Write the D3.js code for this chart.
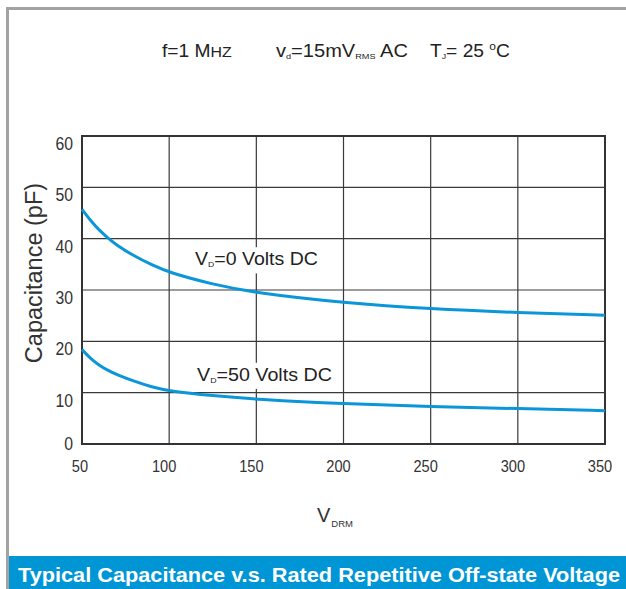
<!DOCTYPE html>
<html><head><meta charset="utf-8">
<script src="https://cdn.jsdelivr.net/npm/d3@7"></script>
<style>body{margin:0;background:#fff;}svg{display:block;font-family:"Liberation Sans",Arial,sans-serif;}</style>
</head><body>
<svg id="c" width="626" height="589"></svg>
<script>
const xTicks = [50,100,150,200,250,300,350];
const yTicks = [0,10,20,30,40,50,60];
const voltage = [50,55,60,65,70,80,90,100,125,150,200,250,300,350];
const capVd0  = [45.7,43.5,41.6,40.1,38.7,36.6,34.9,33.4,31.1,29.4,27.5,26.3,25.6,25.1];
const capVd50 = [18.4,16.6,15.3,14.3,13.5,12.2,11.1,10.3,9.4,8.7,7.8,7.3,6.9,6.5];

const svg = d3.select("#c");
const x = d3.scaleLinear().domain([50,350]).range([82,605]);
const y = d3.scaleLinear().domain([0,60]).range([444,136]);

// scale a text horizontally so it spans [x0, x1]
function fit(t, x0, x1){
  const bb = t.node().getBBox();
  const k = (x1 - x0) / bb.width;
  t.attr("transform", `translate(${x0},0) scale(${k},1) translate(${-bb.x},0)`);
}

// outer gray frame
svg.append("path").attr("d","M7.5,589 V8.5 H626").attr("fill","none").attr("stroke","#a3a3a3").attr("stroke-width",3);

// header text
const hdr = svg.append("text").attr("y",57).attr("font-size",17.5).attr("fill","#222");
hdr.append("tspan").text("f=1 M");
hdr.append("tspan").attr("font-size",14.5).text("HZ");
fit(hdr,162,232);
const h2 = svg.append("text").attr("y",57).attr("font-size",17.5).attr("fill","#222");
h2.append("tspan").text("v");
h2.append("tspan").attr("font-size",8).attr("dy",2).text("d");
h2.append("tspan").attr("dy",-2).text("=15mV");
h2.append("tspan").attr("font-size",8).attr("dy",2).text("RMS");
h2.append("tspan").attr("dy",-2).text(" AC");
fit(h2,276,408);
const h3 = svg.append("text").attr("y",57).attr("font-size",17.5).attr("fill","#222");
h3.append("tspan").text("T");
h3.append("tspan").attr("font-size",8).attr("dy",2).text("J");
h3.append("tspan").attr("dy",-2).text("= 25 ");
h3.append("tspan").attr("font-size",11).attr("dy",-7).text("o");
h3.append("tspan").attr("dy",7).text("C");
fit(h3,430,510);

// grid
const g = svg.append("g");
g.selectAll(".vx").data(xTicks.slice(1,-1)).join("line")
  .attr("x1",d=>x(d)).attr("x2",d=>x(d)).attr("y1",y(60)).attr("y2",y(0))
  .attr("stroke","#3a3a3a").attr("stroke-width",1.2);
g.selectAll(".hy").data(yTicks.slice(1,-1)).join("line")
  .attr("y1",d=>y(d)).attr("y2",d=>y(d)).attr("x1",x(50)).attr("x2",x(350))
  .attr("stroke","#3a3a3a").attr("stroke-width",1.2);

// curve labels with white backgrounds
function label(baseY, x0, x1, rest){
  const t = svg.append("text").attr("y",baseY).attr("font-size",18).attr("fill","#222");
  t.append("tspan").text("V");
  t.append("tspan").attr("font-size",8).attr("dy",2).text("D");
  t.append("tspan").attr("dy",-2).text(rest);
  fit(t,x0,x1);
  const bb = t.node().getBBox();
  svg.insert("rect",()=>t.node()).attr("x",x0-3).attr("y",bb.y-2).attr("width",x1-x0+6).attr("height",bb.height+6).attr("fill","#fff");
}
label(265.5, 195, 318, "=0 Volts DC");
label(381, 197, 332, "=50 Volts DC");

// frame
svg.append("rect").attr("x",x(50)).attr("y",y(60)).attr("width",x(350)-x(50)).attr("height",y(0)-y(60))
  .attr("fill","none").attr("stroke","#333").attr("stroke-width",2);

// curves
const line = d3.line().x(d=>x(d[0])).y(d=>y(d[1])).curve(d3.curveBasis);
[capVd0,capVd50].forEach(s=>{
  svg.append("path").datum(voltage.map((v,i)=>[v,s[i]])).attr("d",line)
    .attr("fill","none").attr("stroke","#0a96d8").attr("stroke-width",3);
});

// ticks
svg.selectAll(".xt").data(xTicks).join("text")
  .attr("transform",d=>`translate(${x(d)-(d===50?2:5)},472) scale(0.86,1)`)
  .attr("text-anchor","middle").attr("font-size",17).attr("fill","#333").text(d=>d);
svg.selectAll(".yt").data(yTicks).join("text")
  .attr("transform",d=>`translate(73,${d===0?y(d)+6:y(d)+14}) scale(0.9,1)`)
  .attr("text-anchor","end").attr("font-size",17.5).attr("fill","#333").text(d=>d);

// axis titles
svg.append("text").attr("transform","translate(42,273) rotate(-90)").attr("text-anchor","middle")
  .attr("font-size",23.5).attr("fill","#333").text("Capacitance (pF)");
const xt = svg.append("text").attr("x",317).attr("y",522).attr("font-size",20).attr("fill","#333");
xt.append("tspan").text("V");
xt.append("tspan").attr("font-size",9.5).attr("dy",5).attr("dx",1).text("DRM");

// banner
svg.append("rect").attr("x",9).attr("y",556).attr("width",617).attr("height",33).attr("fill","#0096d6");
svg.append("text").attr("x",18).attr("y",582).attr("font-size",20.5).attr("font-weight","bold").attr("fill","#fff")
  .attr("textLength",602).attr("lengthAdjust","spacingAndGlyphs")
  .text("Typical Capacitance v.s. Rated Repetitive Off-state Voltage");
</script>
</body></html>
